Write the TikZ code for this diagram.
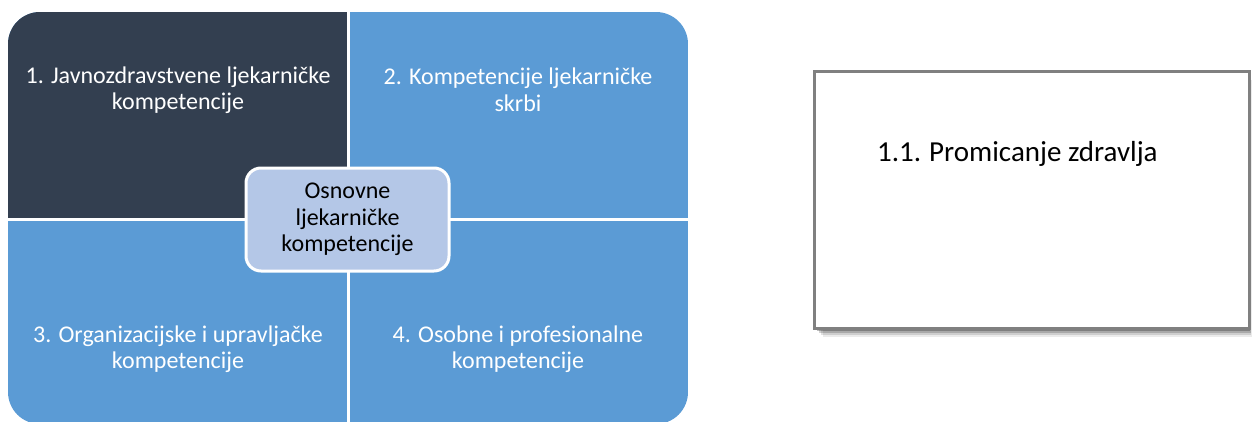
\documentclass[tikz,border=0pt]{standalone}
\usepackage{fontspec}
\setmainfont{Carlito}
\definecolor{navy}{HTML}{333F50}
\definecolor{qblue}{HTML}{5B9BD5}
\definecolor{cblue}{HTML}{B4C7E7}
\definecolor{bgray}{HTML}{808080}
\tikzset{
  qtext/.style={text=white, font=\fontsize{24}{26.5}\selectfont, align=center},
  cbox/.style={fill=cblue, draw=white, line width=3pt, rounded corners=15pt},
  divider/.style={white, line width=3pt},
}
\begin{document}
\begin{tikzpicture}[x=1pt,y=-1pt]
\useasboundingbox (0,0) rectangle (1256,421);
% quadrant grid
\begin{scope}
  \clip[rounded corners=32pt] (8,12) rectangle (688,424);
  \fill[qblue] (8,12) rectangle (688,424);
  \fill[navy] (8,12) rectangle (348.5,219.5);
\end{scope}
\draw[divider] (348.5,12) -- (348.5,424);
\draw[divider] (8,219.5) -- (688,219.5);
\node[qtext] (q1) at (178,90) {1. Javnozdravstvene ljekarničke\\kompetencije};
\node[qtext] (q2) at (518,90) {2. Kompetencije ljekarničke\\skrbi};
\node[qtext] (q3) at (178,349) {3. Organizacijske i upravljačke\\kompetencije};
\node[qtext] (q4) at (518,349) {4. Osobne i profesionalne\\kompetencije};
% center
\draw[cbox] (246,168) rectangle (449,271);
\node[font=\fontsize{24}{26.5}\selectfont, align=center] (center) at (347.5,219.5) {Osnovne\\ljekarničke\\kompetencije};
% right box with shadow
\foreach \o/\a in {9/0.08,7/0.12,5/0.18,3/0.25}{
  \fill[black, opacity=\a] (814+\o,71+\o) rectangle (1249+\o*0.3,328+\o);
}
\fill[white] (814,71) rectangle (1249,328);
\draw[bgray, line width=3pt] (814,71) rectangle (1249,328);
\node[font=\fontsize{29}{33}\selectfont, anchor=west, inner sep=0pt] (p11) at (877,154) {1.1.\hspace{8pt}Promicanje zdravlja};
\end{tikzpicture}
\end{document}
